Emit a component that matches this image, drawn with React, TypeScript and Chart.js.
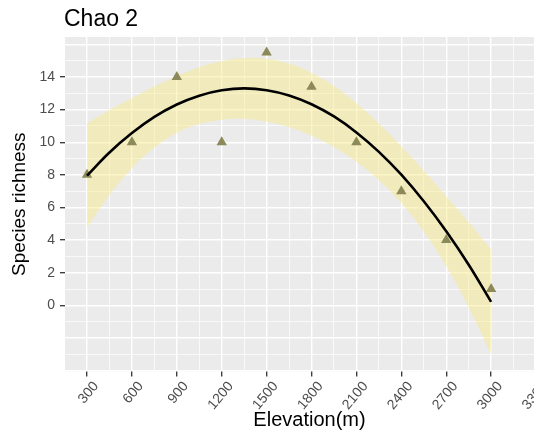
import React, { useEffect, useRef } from 'react';
import { Chart, registerables } from 'chart.js';

Chart.register(...registerables);

// Observed data (elevation in m, species richness)
const elevation = [300, 600, 900, 1200, 1500, 1800, 2100, 2400, 2700, 3000];
const richness = [8, 10, 14, 10, 15.5, 13.4, 10, 7, 4, 1];

// Fitted curve and confidence band
const fitElevation = [300, 450, 600, 750, 900, 1050, 1200, 1350, 1500, 1650, 1800, 1950, 2100, 2250, 2400, 2550, 2700, 2850, 3000];
const fitRichness = [7.95, 9.37, 10.56, 11.55, 12.31, 12.85, 13.18, 13.3, 13.19, 12.87, 12.33, 11.58, 10.6, 9.41, 8.01, 6.38, 4.54, 2.49, 0.21];
const fitUpper = [11.15, 11.97, 12.71, 13.42, 14.05, 14.59, 14.98, 15.17, 15.12, 14.82, 14.26, 13.45, 12.4, 11.15, 9.75, 8.25, 6.69, 5.09, 3.41];
const fitLower = [4.75, 6.77, 8.41, 9.68, 10.57, 11.11, 11.38, 11.43, 11.26, 10.92, 10.4, 9.71, 8.8, 7.67, 6.27, 4.51, 2.39, -0.11, -2.99];

// Tick labels
const xTickLabels = [300, 600, 900, 1200, 1500, 1800, 2100, 2400, 2700, 3000, 3300];
const yTickLabels = [0, 2, 4, 6, 8, 10, 12, 14];

const TITLE = 'Chao 2';
const X_TITLE = 'Elevation(m)';
const Y_TITLE = 'Species richness';

const FONT = '"Liberation Sans", Arial, Helvetica, sans-serif';

const CANVAS_W = 560;
const CANVAS_H = 438;

function toXY(xs: number[], ys: number[]) {
  return xs.map((x, i) => ({ x, y: ys[i] }));
}

const panelPlugin = {
  id: 'panelAndTitle',
  beforeDraw(chart: any) {
    const { ctx, chartArea } = chart;
    ctx.save();
    ctx.fillStyle = '#EBEBEB';
    ctx.fillRect(chartArea.left, chartArea.top, chartArea.right - chartArea.left, chartArea.bottom - chartArea.top);
    ctx.restore();
  },
  afterDraw(chart: any) {
    const { ctx, chartArea } = chart;
    ctx.save();
    ctx.fillStyle = '#000000';
    ctx.font = `23px ${FONT}`;
    ctx.textAlign = 'left';
    ctx.textBaseline = 'alphabetic';
    ctx.fillText(TITLE, chartArea.left - 1, 26);
    ctx.restore();
  },
};

export default function App() {
  const canvasRef = useRef<HTMLCanvasElement | null>(null);

  useEffect(() => {
    const canvas = canvasRef.current;
    if (!canvas) return;

    const xMajor = xTickLabels;
    const xGrid: number[] = [];
    for (let i = 0; i < xMajor.length; i++) {
      xGrid.push(xMajor[i]);
      if (i < xMajor.length - 1) xGrid.push((xMajor[i] + xMajor[i + 1]) / 2);
    }
    const yGrid: number[] = [];
    for (let v = -4; v <= 16; v += 1) yGrid.push(v);

    const isXMajor = (v: number) => xTickLabels.indexOf(v) >= 0;
    const isYMajor = (v: number) => yTickLabels.indexOf(v) >= 0;
    const isYMajorLine = (v: number) => v % 2 === 0;

    const chart = new Chart(canvas, {
      type: 'line',
      data: {
        datasets: [
          {
            label: 'upper',
            data: toXY(fitElevation, fitUpper),
            borderWidth: 0,
            borderColor: 'rgba(0,0,0,0)',
            backgroundColor: 'rgba(248, 232, 130, 0.45)',
            pointRadius: 0,
            fill: '+1',
            tension: 0.4,
            order: 4,
          },
          {
            label: 'lower',
            data: toXY(fitElevation, fitLower),
            borderWidth: 0,
            borderColor: 'rgba(0,0,0,0)',
            pointRadius: 0,
            fill: false,
            tension: 0.4,
            order: 3,
          },
          {
            label: 'observed',
            data: toXY(elevation, richness),
            showLine: false,
            pointStyle: 'triangle',
            pointRadius: 6,
            pointBackgroundColor: '#8C8A58',
            pointBorderColor: '#8C8A58',
            pointBorderWidth: 0,
            fill: false,
            order: 2,
          },
          {
            label: 'fit',
            data: toXY(fitElevation, fitRichness),
            borderColor: '#000000',
            borderWidth: 2.6,
            pointRadius: 0,
            fill: false,
            tension: 0.4,
            order: 1,
          },
        ],
      },
      options: {
        animation: false,
        responsive: false,
        devicePixelRatio: 1,
        layout: { padding: { top: 37, left: 0, right: CANVAS_W - 554, bottom: 0 } },
        plugins: {
          legend: { display: false },
          tooltip: { enabled: false },
          title: { display: false },
        },
        scales: {
          x: {
            type: 'linear',
            min: 153,
            max: 3420,
            afterBuildTicks: (s: any) => {
              s.ticks = xGrid.map((v) => ({ value: v }));
            },
            afterFit: (s: any) => {
              s.height = CANVAS_H - 371.4;
            },
            border: { display: false },
            grid: {
              color: '#FFFFFF',
              lineWidth: (c: any) => (c.tick && isXMajor(c.tick.value) ? 1.4 : 0.7),
              drawTicks: true,
              tickLength: 5,
              tickWidth: 1.3,
              tickColor: (c: any) => (c.tick && isXMajor(c.tick.value) ? '#333333' : 'rgba(0,0,0,0)'),
            },
            ticks: {
              autoSkip: false,
              minRotation: 50,
              maxRotation: 50,
              padding: 2,
              labelOffset: 9,
              color: '#4D4D4D',
              font: { family: FONT, size: 14 },
              callback: (v: any) => (isXMajor(Number(v)) ? String(v) : ''),
            },
            title: {
              display: true,
              text: X_TITLE,
              color: '#000000',
              font: { family: FONT, size: 20 },
              padding: { top: 0, bottom: 6 },
            },
          },
          y: {
            type: 'linear',
            min: -4.05,
            max: 16.45,
            afterBuildTicks: (s: any) => {
              s.ticks = yGrid.map((v) => ({ value: v }));
            },
            afterFit: (s: any) => {
              s.width = 65;
            },
            border: { display: false },
            grid: {
              color: '#FFFFFF',
              lineWidth: (c: any) => (c.tick && isYMajorLine(c.tick.value) ? 1.4 : 0.7),
              drawTicks: true,
              tickLength: 5,
              tickWidth: 1.3,
              tickColor: (c: any) => (c.tick && isYMajor(c.tick.value) ? '#333333' : 'rgba(0,0,0,0)'),
            },
            ticks: {
              autoSkip: false,
              padding: 5,
              color: '#4D4D4D',
              font: { family: FONT, size: 14 },
              callback: (v: any) => (isYMajor(Number(v)) ? String(v) : ''),
            },
            title: {
              display: true,
              text: Y_TITLE,
              color: '#000000',
              font: { family: FONT, size: 19 },
              padding: { top: 8, bottom: 0 },
            },
          },
        },
      },
      plugins: [panelPlugin],
    } as any);

    return () => {
      chart.destroy();
    };
  }, []);

  return (
    <div
      style={{
        position: 'fixed',
        left: 0,
        top: 0,
        width: 534,
        height: 438,
        overflow: 'hidden',
        background: '#FFFFFF',
      }}
    >
      <canvas ref={canvasRef} width={CANVAS_W} height={CANVAS_H} style={{ display: 'block', width: CANVAS_W, height: CANVAS_H }} />
    </div>
  );
}
